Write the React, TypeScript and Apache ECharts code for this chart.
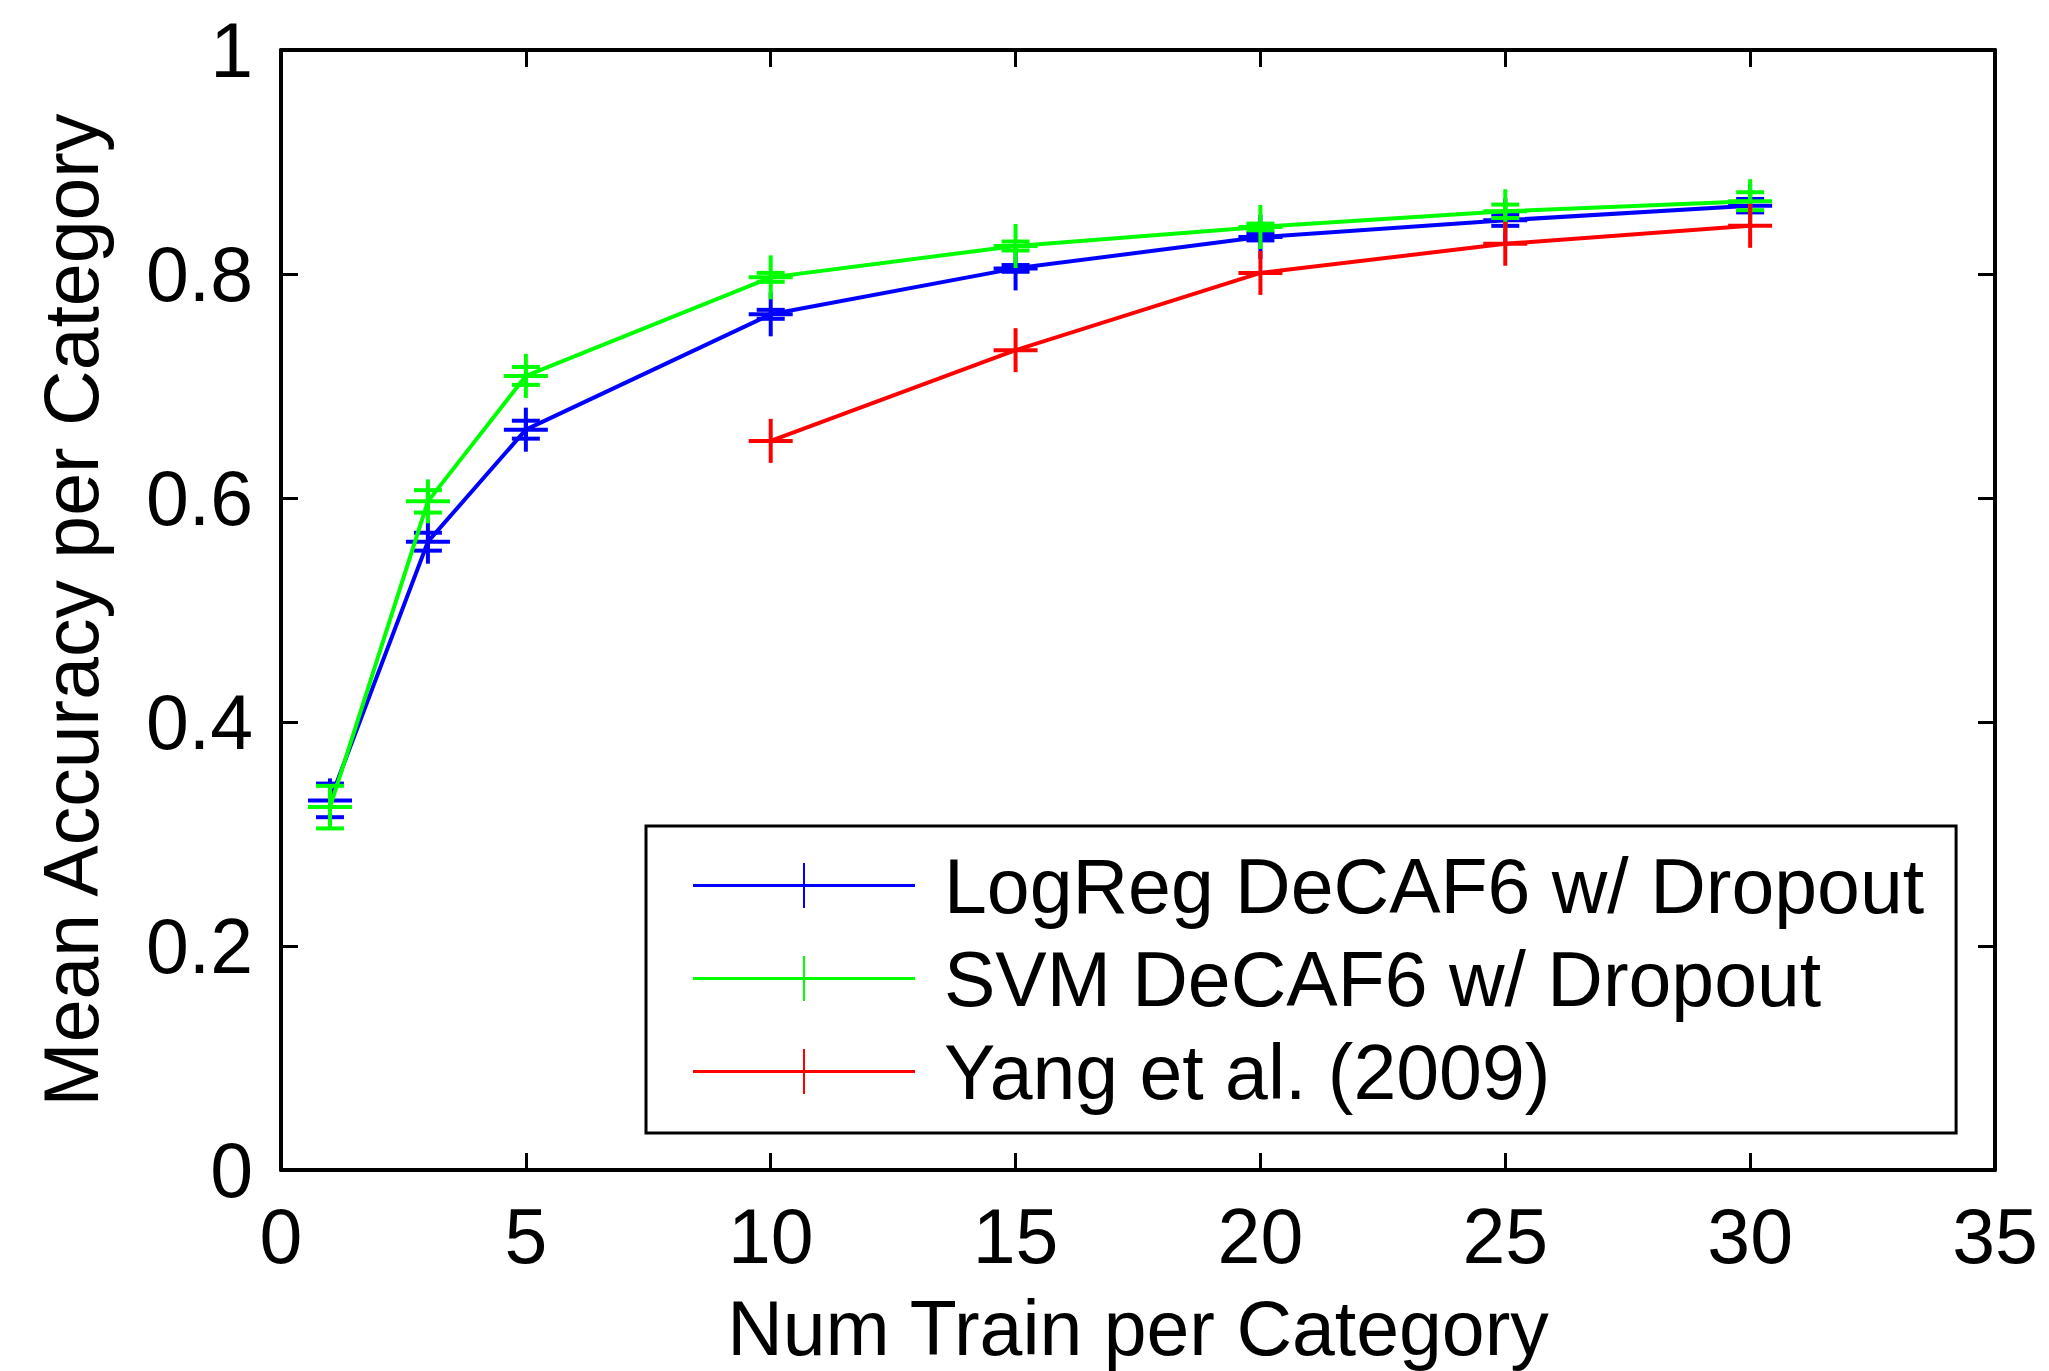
import React, { useEffect, useRef } from "react";
import * as echarts from "echarts";

// ---- data ----
const trainSizes = [1, 3, 5, 10, 15, 20, 25, 30];
const logRegMean = [0.33, 0.561, 0.661, 0.764, 0.805, 0.833, 0.848, 0.861];
const logRegErr = [0.015, 0.008, 0.008, 0.004, 0.003, 0.003, 0.005, 0.006];
const svmMean = [0.324, 0.597, 0.709, 0.797, 0.825, 0.842, 0.856, 0.865];
const svmErr = [0.019, 0.01, 0.008, 0.004, 0.004, 0.003, 0.006, 0.008];
const yangTrain = [10, 15, 20, 25, 30];
const yangMean = [0.651, 0.732, 0.801, 0.827, 0.843];

const seriesNames = ["LogReg DeCAF6 w/ Dropout", "SVM DeCAF6 w/ Dropout", "Yang et al. (2009)"];
const seriesColors = ["#0000ff", "#00ff00", "#ff0000"];

const xTicks = { min: 0, max: 35, interval: 5 };
const yTicks = { min: 0, max: 1, interval: 0.2 };
const xName = "Num Train per Category";
const yName = "Mean Accuracy per Category";

const FONT = "'Liberation Sans', Arial, Helvetica, sans-serif";
const LEGEND_ICON = "path://M0,21 L222,21 L222,24 L0,24 Z M110,0 L112,0 L112,45 L110,45 Z";

function lineSeries(name: string, color: string, xs: number[], ys: number[], z: number) {
  return {
    type: "line",
    name,
    z,
    color,
    symbol: "none",
    silent: true,
    lineStyle: { color, width: 4 },
    itemStyle: { color },
    data: xs.map((x, i) => [x, ys[i]]),
  };
}

function markerSeries(name: string, color: string, xs: number[], ys: number[], errs: number[] | null, z: number) {
  return {
    type: "custom",
    name,
    z,
    silent: true,
    dimensions: ["x", "y", "err"],
    encode: { x: 0, y: 1 },
    data: xs.map((x, i) => [x, ys[i], errs ? errs[i] : 0]),
    renderItem: (_params: any, api: any) => {
      const x = api.value(0);
      const y = api.value(1);
      const e = api.value(2);
      const c = api.coord([x, y]);
      const st = { stroke: color, lineWidth: 4, fill: null };
      const children: any[] = [];
      const cap = 14;
      const mk = 22;
      if (e > 0) {
        const t = api.coord([x, y + e]);
        const b = api.coord([x, y - e]);
        children.push({ type: "line", shape: { x1: c[0], y1: t[1], x2: c[0], y2: b[1] }, style: st });
        children.push({ type: "line", shape: { x1: c[0] - cap, y1: t[1], x2: c[0] + cap, y2: t[1] }, style: st });
        children.push({ type: "line", shape: { x1: c[0] - cap, y1: b[1], x2: c[0] + cap, y2: b[1] }, style: st });
      }
      children.push({ type: "line", shape: { x1: c[0] - mk, y1: c[1], x2: c[0] + mk, y2: c[1] }, style: st });
      children.push({ type: "line", shape: { x1: c[0], y1: c[1] - mk, x2: c[0], y2: c[1] + mk }, style: st });
      return { type: "group", children };
    },
  };
}

const axisLineStyle = { color: "#000", width: 4 };
const tickStyle = { show: true, inside: true, length: 17, lineStyle: { color: "#000", width: 3 } };

export default function App() {
  const ref = useRef<HTMLDivElement>(null);

  useEffect(() => {
    if (!ref.current) return;
    const chart = echarts.init(ref.current, undefined, { renderer: "svg" });
    const option: any = {
      animation: false,
      backgroundColor: "#fff",
      grid: { left: 281, right: 54, top: 50, bottom: 199, containLabel: false },
      xAxis: [
        {
          type: "value",
          ...xTicks,
          position: "bottom",
          name: xName,
          nameLocation: "middle",
          nameGap: 119,
          nameTextStyle: { fontSize: 77, color: "#000", fontFamily: FONT },
          axisLine: { show: true, onZero: false, lineStyle: axisLineStyle },
          axisTick: tickStyle,
          axisLabel: { fontSize: 77, color: "#000", fontFamily: FONT, margin: 27 },
          splitLine: { show: false },
        },
        {
          type: "value",
          ...xTicks,
          position: "top",
          axisLine: { show: true, onZero: false, lineStyle: axisLineStyle },
          axisTick: tickStyle,
          axisLabel: { show: false },
          splitLine: { show: false },
        },
      ],
      yAxis: [
        {
          type: "value",
          ...yTicks,
          position: "left",
          name: yName,
          nameLocation: "middle",
          nameGap: 172,
          nameTextStyle: { fontSize: 77, color: "#000", fontFamily: FONT },
          axisLine: { show: true, onZero: false, lineStyle: axisLineStyle },
          axisTick: tickStyle,
          axisLabel: { fontSize: 77, color: "#000", fontFamily: FONT, margin: 28 },
          splitLine: { show: false },
        },
        {
          type: "value",
          ...yTicks,
          position: "right",
          axisLine: { show: true, onZero: false, lineStyle: axisLineStyle },
          axisTick: tickStyle,
          axisLabel: { show: false },
          splitLine: { show: false },
        },
      ],
      legend: {
        orient: "vertical",
        left: 646,
        top: 826,
        padding: [13, 32, 15, 47],
        itemGap: 0,
        itemWidth: 222,
        itemHeight: 45,
        selectedMode: false,
        backgroundColor: "#fff",
        borderColor: "#000",
        borderWidth: 3,
        borderRadius: 0,
        itemStyle: { borderWidth: 0 },
        textStyle: {
          fontSize: 77,
          color: "#000",
          fontFamily: FONT,
          lineHeight: 93,
          padding: [0, 0, 0, 24],
        },
        data: seriesNames.map((n) => ({ name: n, icon: LEGEND_ICON })),
      },
      series: [
        lineSeries(seriesNames[0], seriesColors[0], trainSizes, logRegMean, 2),
        markerSeries("_m0", seriesColors[0], trainSizes, logRegMean, logRegErr, 3),
        lineSeries(seriesNames[1], seriesColors[1], trainSizes, svmMean, 4),
        markerSeries("_m1", seriesColors[1], trainSizes, svmMean, svmErr, 5),
        lineSeries(seriesNames[2], seriesColors[2], yangTrain, yangMean, 6),
        markerSeries("_m2", seriesColors[2], yangTrain, yangMean, null, 7),
      ],
    };
    chart.setOption(option);
    return () => chart.dispose();
  }, []);

  return (
    <div
      ref={ref}
      style={{ position: "absolute", left: 0, top: 0, width: 2049, height: 1371 }}
    />
  );
}
